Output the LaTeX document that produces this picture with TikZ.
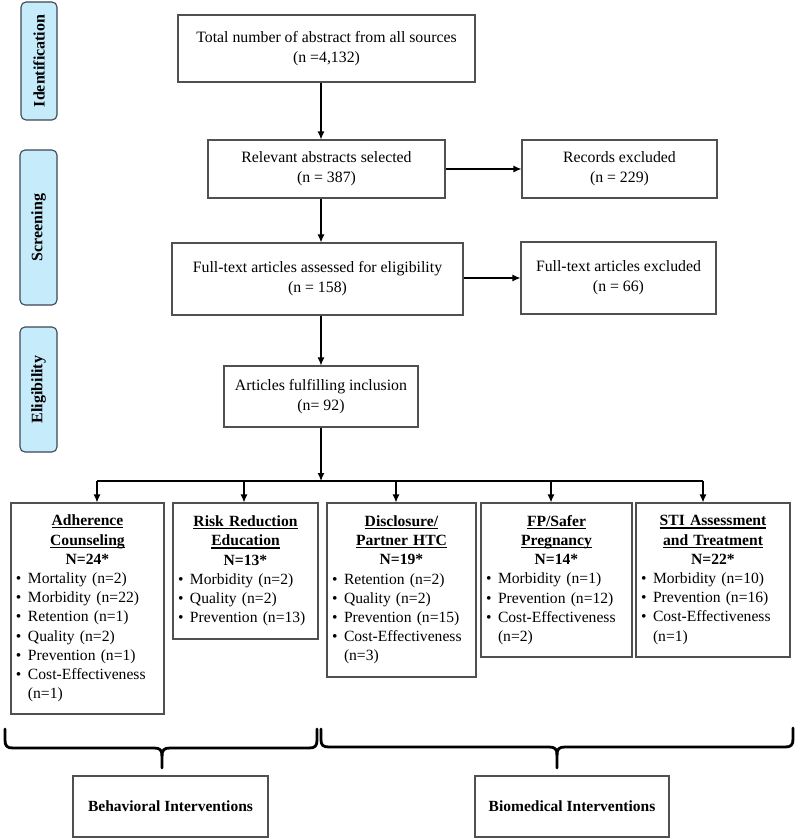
\documentclass[tikz,border=0pt]{standalone}
\usepackage{fontspec}
\setmainfont{Liberation Serif}
\usetikzlibrary{arrows.meta,calc}
\definecolor{stagefill}{RGB}{198,236,252}
\definecolor{stageline}{RGB}{60,70,85}
\definecolor{boxline}{RGB}{80,80,80}
\newcommand\ultitle[1]{\setbox0=\hbox{\textbf{#1}}\leavevmode\rlap{\rule[-2.6pt]{\wd0}{1.1pt}}\box0}
\newcommand\bitem[1]{\par\hangindent=12pt\hangafter=1\noindent\makebox[12pt][l]{\textbullet}#1}
\tikzset{
 mbox/.style={draw=boxline, line width=1.1pt, align=center, font=\fontsize{15.8pt}{20pt}\selectfont, inner sep=2pt},
 cbox/.style={draw=boxline, line width=1.1pt, inner xsep=5pt, inner ysep=3pt, font=\fontsize{15.6pt}{19.2pt}\selectfont},
 stagebox/.style={draw=stageline, fill=stagefill, line width=1.1pt, rounded corners=5pt, rotate=90, font=\bfseries\fontsize{16pt}{18pt}\selectfont, inner sep=0pt},
 catbox/.style={draw=boxline, line width=1.1pt, font=\bfseries\fontsize{15.5pt}{18pt}\selectfont},
 arr/.style={line width=1.2pt, -{Latex[length=8pt,width=7pt]}},
 brace/.style={line width=2.8pt, line cap=round, line join=round}
}
\begin{document}
\begin{tikzpicture}[x=1pt,y=-1pt]
\useasboundingbox (0,0) rectangle (800,840);
% stage labels
\node[stagebox, minimum width=118pt, minimum height=36pt] (s1) at (39,61) {Identification};
\node[stagebox, minimum width=155pt, minimum height=37pt] (s2) at (38.5,227.5) {Screening};
\node[stagebox, minimum width=125pt, minimum height=37pt] (s3) at (38.5,389.5) {Eligibility};
% flow boxes
\node[mbox, minimum width=297pt, minimum height=67pt] (top) at (326.5,48.5) {Total number of abstract from all sources\\(n =4,132)};
\node[mbox, minimum width=237pt, minimum height=58pt] (rel) at (326.5,169) {Relevant abstracts selected\\(n = 387)};
\node[mbox, minimum width=195pt, minimum height=58pt] (rec) at (619.5,169) {Records excluded\\(n = 229)};
\node[mbox, minimum width=291pt, minimum height=72pt] (full) at (317.5,279) {Full-text articles assessed for eligibility\\(n = 158)};
\node[mbox, minimum width=195pt, minimum height=72pt] (fex) at (618.5,278) {Full-text articles excluded\\(n = 66)};
\node[mbox, minimum width=194pt, minimum height=61pt] (art) at (321,396.5) {Articles fulfilling inclusion\\(n= 92)};
% arrows
\draw[arr] (top.south -| art.north) -- (rel.north -| art.north);
\draw[arr] (rel.south -| art.north) -- (full.north -| art.north);
\draw[arr] (full.south -| art.north) -- (art.north);
\draw[arr] (rel.east) -- (rec.west |- rel.east);
\draw[arr] (full.east |- fex.west) -- (fex.west);
% category boxes
\node[cbox, minimum width=153pt, minimum height=211pt, text width=143pt] (b1) at (87.5,608.5) {%
 {\centering\ultitle{Adherence}\par\ultitle{Counseling}\par\textbf{N=24*}\par}\raggedright
 \bitem{Mortality (n=2)}\bitem{Morbidity (n=22)}\bitem{Retention (n=1)}\bitem{Quality (n=2)}\bitem{Prevention (n=1)}\bitem{Cost-Effectiveness\newline(n=1)}\par};
\node[cbox, minimum width=145pt, minimum height=136pt, text width=135pt] (b2) at (245.5,571) {%
 {\centering\ultitle{Risk Reduction}\par\ultitle{Education}\par\textbf{N=13*}\par}\raggedright
 \bitem{Morbidity (n=2)}\bitem{Quality (n=2)}\bitem{Prevention (n=13)}\par};
\node[cbox, minimum width=149pt, minimum height=174pt, text width=139pt] (b3) at (401.5,590) {%
 {\centering\ultitle{Disclosure/}\par\ultitle{Partner HTC}\par\textbf{N=19*}\par}\raggedright
 \bitem{Retention (n=2)}\bitem{Quality (n=2)}\bitem{Prevention (n=15)}\bitem{Cost-Effectiveness\newline(n=3)}\par};
\node[cbox, minimum width=151pt, minimum height=154pt, text width=141pt] (b4) at (556.5,580) {%
 {\centering\ultitle{FP/Safer}\par\ultitle{Pregnancy}\par\textbf{N=14*}\par}\raggedright
 \bitem{Morbidity (n=1)}\bitem{Prevention (n=12)}\bitem{Cost-Effectiveness\newline(n=2)}\par};
\node[cbox, minimum width=154pt, minimum height=154pt, text width=144pt] (b5) at (713,580) {%
 {\centering\ultitle{STI Assessment}\par\ultitle{and Treatment}\par\textbf{N=22*}\par}\raggedright
 \bitem{Morbidity (n=10)}\bitem{Prevention (n=16)}\bitem{Cost-Effectiveness\newline(n=1)}\par};
% distribution bar
\coordinate (bar) at (321,481);
\coordinate (t1) at (97,481);
\coordinate (t2) at (244,481);
\coordinate (t3) at (396,481);
\coordinate (t4) at (551,481);
\coordinate (t5) at (703,481);
\draw[arr] (art.south) -- (bar);
\draw[line width=1.2pt] (t1) -- (t5);
\draw[arr] (t1) -- (t1 |- b1.north);
\draw[arr] (t2) -- (t2 |- b2.north);
\draw[arr] (t3) -- (t3 |- b3.north);
\draw[arr] (t4) -- (t4 |- b4.north);
\draw[arr] (t5) -- (t5 |- b5.north);
% braces
\draw[brace] (5,729) -- (5,740) .. controls (5,746) and (7,748) .. (13,748) -- (154,748) .. controls (160,748) and (162,750) .. (162,756) -- (162,768);
\draw[brace] (162,756) .. controls (162,750) and (164,748) .. (170,748) -- (309,748) .. controls (315,748) and (317,746) .. (317,740) -- (317,729);
\draw[brace] (321,729) -- (321,740) .. controls (321,745) and (323,747) .. (329,747) -- (549,747) .. controls (555,747) and (557,749) .. (557,755) -- (557,768);
\draw[brace] (557,755) .. controls (557,749) and (559,747) .. (565,747) -- (785,747) .. controls (791,747) and (793,745) .. (793,739) -- (793,728);
% intervention boxes
\node[catbox, minimum width=195pt, minimum height=61pt] (beh) at (170.5,806.5) {Behavioral Interventions};
\node[catbox, minimum width=194pt, minimum height=61pt] (bio) at (572,806.5) {Biomedical Interventions};
\end{tikzpicture}
\end{document}
